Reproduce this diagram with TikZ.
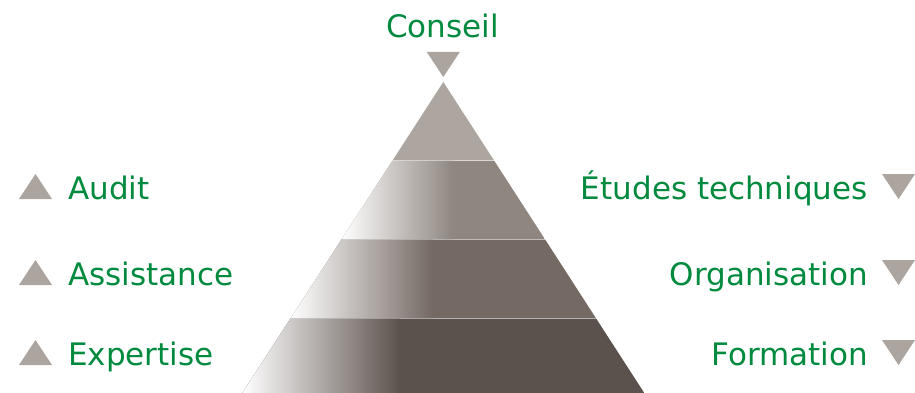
\documentclass[tikz,border=0pt]{standalone}
\usepackage{fontspec}
\setmainfont{DejaVu Sans}
\usepackage{tikz}
\definecolor{labgreen}{RGB}{0,138,62}
\definecolor{marker}{RGB}{172,164,158}
\definecolor{tierA}{RGB}{173,165,159}
\definecolor{tierB}{RGB}{143,134,128}
\definecolor{tierC}{RGB}{116,105,99}
\definecolor{tierD}{RGB}{92,82,77}
\newcommand{\uptri}[1]{\fill[marker] (#1) ++(-16.5,0) -- ++(33,0) -- ++(-16.5,-25) -- cycle;}
\newcommand{\downtri}[1]{\fill[marker] (#1) ++(-16.5,0) -- ++(33,0) -- ++(-16.5,25) -- cycle;}
\tikzset{lab/.style={text=labgreen,inner sep=0pt,font=\fontsize{31}{36}\selectfont},
  seam/.style={white,opacity=0.3,line width=0.6pt}}

\begin{document}
\begin{tikzpicture}[x=1pt,y=-1pt]
      \useasboundingbox (0,0) rectangle (915,393);
      % pyramid, top down
      \fill[tierA] (443.3,82) -- (494.2,160.7) -- (392.4,160.7) -- cycle;
      \begin{scope}
        \clip (392.4,160.7) -- (494.2,160.7) -- (545,239.3) -- (341.6,239.3) -- cycle;
        \fill[tierB] (341.6,160.7) rectangle (545,239.3);
        \shade[left color=white,right color=tierB] (341.6,160.7) rectangle (453,239.3);
      \end{scope}
      \begin{scope}
        \clip (341.6,239.3) -- (545,239.3) -- (596,318.3) -- (290.6,318.3) -- cycle;
        \fill[tierC] (290.6,239.3) rectangle (596,318.3);
        \shade[left color=white,right color=tierC] (290.6,239.3) rectangle (433,318.3);
      \end{scope}
      \begin{scope}
        \clip (290.6,318.3) -- (596,318.3) -- (644.3,393) -- (242.3,393) -- cycle;
        \fill[tierD] (242.3,318.3) rectangle (644.3,393);
        \shade[left color=white,right color=tierD] (242.3,318.3) rectangle (400,393);
      \end{scope}
      \draw[seam] (392.4,160.7) -- (494.2,160.7);
      \draw[seam] (341.6,239.3) -- (545,239.3);
      \draw[seam] (290.6,318.3) -- (596,318.3);
      % top label
      \node[lab,anchor=base] (conseil) at (442.5,38) {Conseil};
      \downtri{443.3,52}
      % left labels
      \uptri{35.5,199}
      \node[lab,anchor=base west] (audit) at (68,199) {Audit};
      \uptri{35.5,285}
      \node[lab,anchor=base west] (assist) at (68,285) {Assistance};
      \uptri{35.5,365}
      \node[lab,anchor=base west] (expert) at (68,365) {Expertise};
      % right labels
      \downtri{898.5,174}
      \node[lab,anchor=base east] (etudes) at (868,199) {Études techniques};
      \downtri{898.5,260}
      \node[lab,anchor=base east] (orga) at (868,285) {Organisation};
      \downtri{898.5,340}
      \node[lab,anchor=base east] (forma) at (868,365) {Formation};
\end{tikzpicture}
\end{document}
